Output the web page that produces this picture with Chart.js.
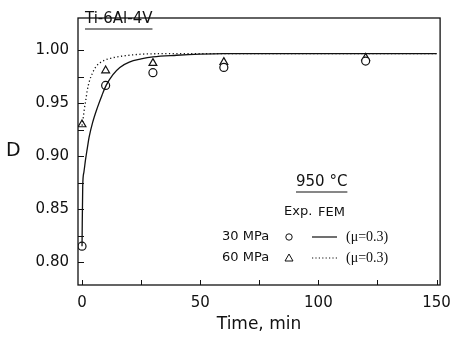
<!DOCTYPE html>
<html>
<head>
<meta charset="utf-8">
<script src="https://cdn.jsdelivr.net/npm/chart.js@4.4.1/dist/chart.umd.min.js"></script>
<style>
html,body{margin:0;padding:0;background:#fff;}
#wrap{width:460px;height:337px;}
</style>
</head>
<body>
<div id="wrap"><canvas id="c" width="460" height="337"></canvas></div>
<script>
// Experimental points
const expTime = [0, 10, 30, 60, 120];
const exp30MPa = [0.815, 0.967, 0.979, 0.984, 0.990];
const exp60MPa = [0.930, 0.981, 0.988, 0.989, 0.993];
// FEM curves (mu = 0.3)
const fem30Time = [0, 0.3, 0.8, 1.5, 2.2, 3, 4.5, 6.5, 8.5, 10.2, 13, 16, 20, 25, 30, 40, 50, 60, 150];
const fem30D = [0.815, 0.872, 0.885, 0.897, 0.907, 0.918, 0.932, 0.946, 0.958, 0.967, 0.977, 0.984, 0.989, 0.992, 0.994, 0.9955, 0.9965, 0.997, 0.997];
const fem60Time = [0, 0.5, 1, 1.6, 2.2, 3, 4.5, 6, 8, 11, 15, 20, 28, 40, 60, 150];
const fem60D = [0.929, 0.936, 0.945, 0.953, 0.962, 0.970, 0.979, 0.985, 0.989, 0.992, 0.994, 0.9955, 0.9968, 0.997, 0.997, 0.997];
// Axis ticks
const xTicks = [0, 25, 50, 75, 100, 125, 150];
const xLabels = [0, 50, 100, 150];
const yTicks = [0.80, 0.825, 0.85, 0.875, 0.90, 0.925, 0.95, 0.975, 1.00];
const yLabels = [0.80, 0.85, 0.90, 0.95, 1.00];

const pts = (xs, ys) => xs.map((x, i) => ({x: x, y: ys[i]}));
const FONT = '"DejaVu Sans", sans-serif';

const decor = {
  id: 'decor',
  afterDraw(chart) {
    const ctx = chart.ctx, a = chart.chartArea;
    const xs = chart.scales.x, ys = chart.scales.y;
    ctx.save();
    ctx.strokeStyle = '#111';
    ctx.lineWidth = 1.3;
    ctx.strokeRect(a.left, a.top, a.right - a.left, a.bottom - a.top);
    // inward ticks
    ctx.lineWidth = 1;
    ctx.beginPath();
    xTicks.forEach(v => { const px = Math.round(xs.getPixelForValue(v)) + 0.5; ctx.moveTo(px, a.bottom); ctx.lineTo(px, a.bottom - 5); });
    yTicks.forEach(v => { const py = Math.round(ys.getPixelForValue(v)) + 0.5; ctx.moveTo(a.left, py); ctx.lineTo(a.left + 6, py); });
    ctx.stroke();
    ctx.fillStyle = '#111';
    // axis titles
    ctx.font = '19px ' + FONT;
    ctx.textAlign = 'left'; ctx.textBaseline = 'middle';
    ctx.fillText('D', 6, 151);
    ctx.font = '17px ' + FONT;
    ctx.textAlign = 'center';
    ctx.fillText('Time, min', 259, 325);
    // material label
    ctx.font = '15px ' + FONT;
    ctx.textAlign = 'left';
    ctx.fillText('Ti-6Al-4V', 85, 19);
    const wT = ctx.measureText('Ti-6Al-4V').width;
    ctx.lineWidth = 1.2;
    ctx.beginPath(); ctx.moveTo(85, 29); ctx.lineTo(85 + wT, 29); ctx.stroke();
    // legend block
    ctx.font = '15px ' + FONT;
    ctx.fillText('950 °C', 296, 182);
    const w9 = ctx.measureText('950 °C').width;
    ctx.beginPath(); ctx.moveTo(296, 192); ctx.lineTo(296 + w9, 192); ctx.stroke();
    ctx.font = '13px ' + FONT;
    ctx.fillText('Exp.', 284, 212);
    ctx.fillText('FEM', 318, 213);
    ctx.fillText('30 MPa', 222, 237);
    ctx.fillText('60 MPa', 222, 258);
    ctx.font = '14px "Liberation Serif", serif';
    ctx.fillText('(\u03bc=0.3)', 346, 237);
    ctx.fillText('(\u03bc=0.3)', 346, 258);
    // markers
    ctx.lineWidth = 1;
    ctx.beginPath(); ctx.arc(289, 237, 3.2, 0, Math.PI * 2); ctx.stroke();
    ctx.beginPath(); ctx.moveTo(289, 254); ctx.lineTo(293, 261); ctx.lineTo(285, 261); ctx.closePath(); ctx.stroke();
    ctx.lineWidth = 1.2;
    ctx.beginPath(); ctx.moveTo(312, 237); ctx.lineTo(337, 237); ctx.stroke();
    ctx.setLineDash([1.2, 2.2]);
    ctx.beginPath(); ctx.moveTo(312, 258); ctx.lineTo(337, 258); ctx.stroke();
    ctx.restore();
  }
};

new Chart(document.getElementById('c'), {
  type: 'scatter',
  data: {
    datasets: [
      { label: 'FEM 30 MPa', data: pts(fem30Time, fem30D), showLine: true, borderColor: '#111', borderWidth: 1.3, pointRadius: 0, cubicInterpolationMode: 'monotone' },
      { label: 'FEM 60 MPa', data: pts(fem60Time, fem60D), showLine: true, borderColor: '#111', borderWidth: 1.3, borderDash: [1.2, 2.5], pointRadius: 0, cubicInterpolationMode: 'monotone' },
      { label: 'Exp 30 MPa', data: pts(expTime, exp30MPa), pointStyle: 'circle', pointRadius: 4, backgroundColor: '#fff', borderColor: '#111', borderWidth: 1.2 },
      { label: 'Exp 60 MPa', data: pts(expTime, exp60MPa), pointStyle: 'triangle', pointRadius: 4.5, backgroundColor: '#fff', borderColor: '#111', borderWidth: 1.2 }
    ]
  },
  options: {
    responsive: false,
    animation: false,
    layout: { padding: { left: 0, right: 13, top: 5, bottom: 0 } },
    plugins: { legend: { display: false }, tooltip: { enabled: false } },
    scales: {
      x: {
        type: 'linear', min: -1.7, max: 151.5,
        grid: { display: false, drawTicks: false }, border: { display: false },
        afterBuildTicks: s => { s.ticks = xTicks.map(v => ({ value: v })); },
        afterFit: s => { s.height = 52; },
        ticks: { color: '#111', font: { family: FONT, size: 15 }, padding: 9, maxRotation: 0, autoSkip: false,
          callback: v => xLabels.includes(v) ? String(v) : '' }
      },
      y: {
        type: 'linear', min: 0.7783, max: 1.0307,
        grid: { display: false, drawTicks: false }, border: { display: false },
        afterBuildTicks: s => { s.ticks = yTicks.map(v => ({ value: v })); },
        afterFit: s => { s.width = 78; },
        ticks: { color: '#111', font: { family: FONT, size: 15 }, padding: 9, autoSkip: false,
          callback: v => yLabels.some(l => Math.abs(l - v) < 1e-6) ? v.toFixed(2) : '' }
      }
    }
  },
  plugins: [decor]
});
</script>
</body>
</html>
